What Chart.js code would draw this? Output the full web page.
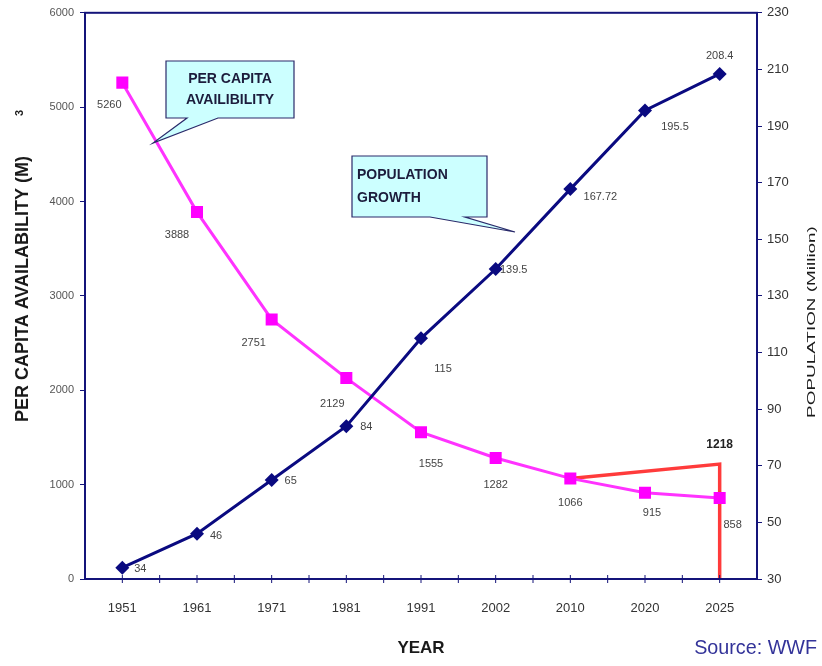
<!DOCTYPE html>
<html>
<head>
<meta charset="utf-8">
<script src="https://cdn.jsdelivr.net/npm/chart.js@4/dist/chart.umd.min.js"></script>
<style>
  html, body { margin: 0; padding: 0; background: #fff; }
  #wrap { width: 822px; height: 666px; position: relative; }
</style>
</head>
<body>
<div id="wrap"><canvas id="chart" width="822" height="666"></canvas></div>
<script>
// data
var years = ['1951', '1961', '1971', '1981', '1991', '2002', '2010', '2020', '2025'];
var perCapita = [5260, 3888, 2751, 2129, 1555, 1282, 1066, 915, 858];
var population = [34, 46, 65, 84, 115, 139.5, 167.72, 195.5, 208.4];
var populationText = ['34', '46', '65', '84', '115', '139.5', '167.72', '195.5', '208.4'];
var targetYears = ['2010', '2025', '2025'];
var targetValues = [1066, 1218, 0];
var leftTicks = [0, 6000, 1000];
var rightTicks = [30, 230, 20];

// label offsets (pixels from the point)
var perCapitaOff = [[-13, 22], [-20, 23], [-18, 24], [-14, 26], [10, 32], [0, 27], [0, 25], [7, 20], [13, 27]];
var popOff = [[18, 1], [19, 2], [19, 1], [20, 1], [22, 31], [18, 1], [30, 8], [30, 16], [0, -18]];

var NAVY = '#14147a';
var FONT = '"Liberation Sans", Arial, sans-serif';

var labelPlugin = {
  id: 'labels',
  afterDatasetsDraw: function (chart) {
    var ctx = chart.ctx;
    ctx.save();
    ctx.font = '11px ' + FONT;
    ctx.fillStyle = '#444';
    ctx.textAlign = 'center';
    ctx.textBaseline = 'middle';
    chart.getDatasetMeta(0).data.forEach(function (p, i) {
      ctx.fillText(String(perCapita[i]), p.x + perCapitaOff[i][0], p.y + perCapitaOff[i][1]);
    });
    chart.getDatasetMeta(1).data.forEach(function (p, i) {
      ctx.fillText(populationText[i], p.x + popOff[i][0], p.y + popOff[i][1]);
    });
    var top = chart.getDatasetMeta(2).data[1];
    ctx.font = 'bold 12px ' + FONT;
    ctx.fillStyle = '#222';
    ctx.fillText(String(targetValues[1]), top.x, top.y - 19);
    ctx.restore();
  }
};

function callout(ctx, box, base, tip, lines, align) {
  ctx.save();
  ctx.beginPath();
  ctx.moveTo(box[0], box[1]);
  ctx.lineTo(box[2], box[1]);
  ctx.lineTo(box[2], box[3]);
  ctx.lineTo(base[1], box[3]);
  ctx.lineTo(tip[0], tip[1]);
  ctx.lineTo(base[0], box[3]);
  ctx.lineTo(box[0], box[3]);
  ctx.closePath();
  ctx.fillStyle = '#ccffff';
  ctx.fill();
  ctx.strokeStyle = '#2a2a6a';
  ctx.lineWidth = 1.2;
  ctx.stroke();
  ctx.font = 'bold 14px ' + FONT;
  ctx.fillStyle = '#1c1c3c';
  ctx.textBaseline = 'middle';
  ctx.textAlign = align;
  var x = align === 'center' ? (box[0] + box[2]) / 2 : box[0] + 5;
  var h = box[3] - box[1];
  lines.forEach(function (t, i) {
    ctx.fillText(t, x, box[1] + h * (i + 1) / (lines.length + 1) + (i === 0 ? -1 : 1));
  });
  ctx.restore();
}

var decorPlugin = {
  id: 'decor',
  afterDraw: function (chart) {
    var ctx = chart.ctx;
    var a = chart.chartArea;
    var xs = chart.scales.x;
    ctx.save();
    ctx.strokeStyle = NAVY;
    ctx.lineWidth = 2;
    ctx.strokeRect(a.left, a.top, a.right - a.left, a.bottom - a.top);
    // x tick marks at centres and between categories, crossing the axis
    ctx.lineWidth = 1;
    for (var i = 0; i < years.length; i++) {
      var c = xs.getPixelForValue(i);
      var b = xs.getPixelForValue(i + 0.5);
      [c, b].forEach(function (px) {
        if (px < a.right - 1) {
          ctx.beginPath();
          ctx.moveTo(px, a.bottom - 4);
          ctx.lineTo(px, a.bottom + 4);
          ctx.stroke();
        }
      });
    }
    ctx.restore();

    // axis titles
    ctx.save();
    ctx.fillStyle = '#1a1a1a';
    ctx.font = 'bold 18px ' + FONT;
    ctx.textAlign = 'center';
    ctx.textBaseline = 'middle';
    ctx.translate(23, 289);
    ctx.rotate(-Math.PI / 2);
    ctx.fillText('PER CAPITA AVAILABILITY (M)', 0, 0);
    ctx.font = 'bold 11px ' + FONT;
    ctx.fillText('3', 176, -3);
    ctx.restore();

    ctx.save();
    ctx.fillStyle = '#1a1a1a';
    ctx.font = '10.5px ' + FONT;
    ctx.textAlign = 'center';
    ctx.textBaseline = 'middle';
    ctx.translate(812, 322);
    ctx.rotate(-Math.PI / 2);
    ctx.scale(1.8, 1);
    ctx.fillText('POPULATION (Million)', 0, 0);
    ctx.restore();

    ctx.save();
    ctx.fillStyle = '#333399';
    ctx.font = '21px ' + FONT;
    ctx.textAlign = 'right';
    ctx.textBaseline = 'middle';
    ctx.translate(817, 648);
    ctx.scale(0.94, 1);
    ctx.fillText('Source: WWF', 0, 0);
    ctx.restore();

    callout(ctx, [166, 61, 294, 118], [187, 218], [153, 143], ['PER CAPITA', 'AVAILIBILITY'], 'center');
    callout(ctx, [352, 156, 487, 217], [430, 465], [515, 232], ['POPULATION', 'GROWTH'], 'left');
  }
};

new Chart(document.getElementById('chart'), {
  type: 'line',
  data: {
    labels: years,
    datasets: [
      {
        label: 'Per capita availability',
        data: perCapita,
        yAxisID: 'y',
        borderColor: '#ff33ff',
        backgroundColor: '#ff00ff',
        borderWidth: 3,
        pointStyle: 'rect',
        pointRadius: 8.5,
        pointBorderWidth: 0,
        order: 2
      },
      {
        label: 'Population',
        data: population,
        yAxisID: 'y1',
        borderColor: '#0a0a80',
        backgroundColor: '#0a0a80',
        borderWidth: 3,
        pointStyle: 'rectRot',
        pointRadius: 7,
        pointBorderWidth: 0,
        order: 1
      },
      {
        label: 'Target',
        data: targetYears.map(function (y, i) { return { x: y, y: targetValues[i] }; }),
        yAxisID: 'y',
        borderColor: '#ff3b3b',
        borderWidth: 3.5,
        pointRadius: 0,
        order: 3
      }
    ]
  },
  options: {
    responsive: false,
    animation: false,
    layout: { padding: { top: 8 } },
    plugins: { legend: { display: false }, tooltip: { enabled: false } },
    elements: { line: { tension: 0 } },
    scales: {
      x: {
        type: 'category',
        offset: true,
        grid: { display: false },
        border: { color: NAVY, width: 2 },
        ticks: { color: '#333', padding: 14, maxRotation: 0, font: { family: FONT, size: 13 } },
        title: { display: true, text: 'YEAR', color: '#1a1a1a', padding: { top: 0, bottom: 7 }, font: { family: FONT, size: 17, weight: 'bold' } },
        afterFit: function (s) { s.height = 87; }
      },
      y: {
        position: 'left',
        min: leftTicks[0],
        max: leftTicks[1],
        grid: { drawOnChartArea: false, tickLength: 5, color: NAVY },
        border: { color: NAVY, width: 2 },
        ticks: {
          stepSize: leftTicks[2], color: '#555', padding: 6,
          font: { family: FONT, size: 11 },
          callback: function (v) { return String(v); }
        },
        afterFit: function (s) { s.width = 85; }
      },
      y1: {
        position: 'right',
        min: rightTicks[0],
        max: rightTicks[1],
        grid: { drawOnChartArea: false, tickLength: 5, color: NAVY },
        border: { color: NAVY, width: 2 },
        ticks: { stepSize: rightTicks[2], color: '#333', padding: 5, font: { family: FONT, size: 13 } },
        afterFit: function (s) { s.width = 65; }
      }
    }
  },
  plugins: [labelPlugin, decorPlugin]
});
</script>
</body>
</html>
